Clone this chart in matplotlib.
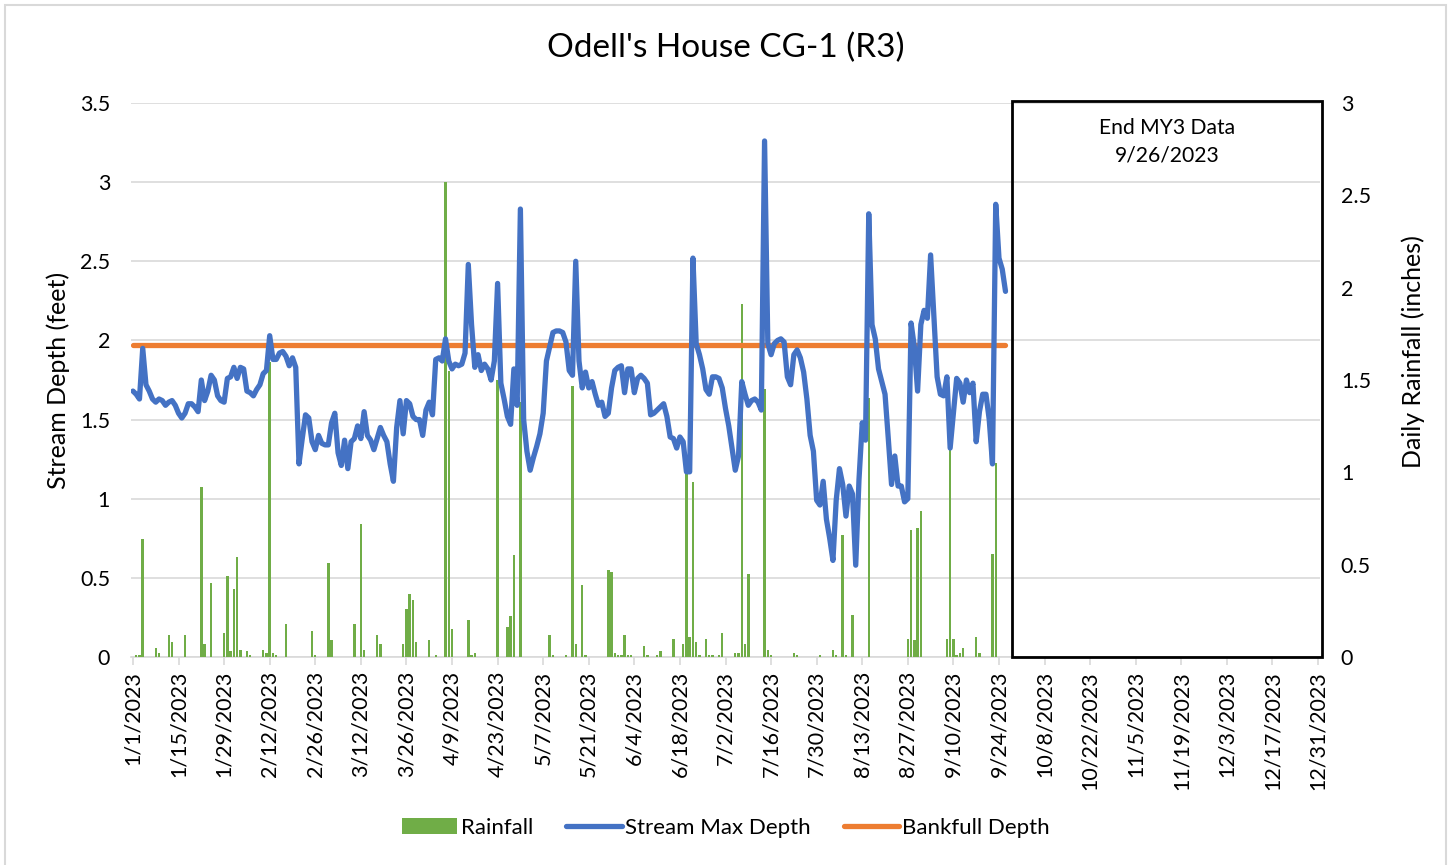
import pandas as pd
import matplotlib
matplotlib.use("Agg")
import matplotlib.pyplot as plt
import matplotlib.dates as mdates
from matplotlib.patches import Rectangle, Patch
from matplotlib.lines import Line2D
from matplotlib.ticker import FixedLocator, FuncFormatter, MultipleLocator
from matplotlib.transforms import blended_transform_factory

plt.rcParams['font.family'] = ['Lato', 'DejaVu Sans']

# daily stream max depth (feet), 1/1/2023 - 9/26/2023, one list per month
depth_jan = [1.68, 1.66, 1.63, 1.95, 1.72, 1.68, 1.63, 1.61, 1.63, 1.62,
             1.59, 1.61, 1.62, 1.59, 1.54, 1.51, 1.54, 1.60, 1.60, 1.58,
             1.55, 1.75, 1.62, 1.68, 1.78, 1.75, 1.65, 1.62, 1.61, 1.76,
             1.77]
depth_feb = [1.83, 1.76, 1.83, 1.82, 1.68, 1.67, 1.65, 1.69, 1.72, 1.79,
             1.81, 2.03, 1.88, 1.88, 1.92, 1.93, 1.90, 1.84, 1.89, 1.83,
             1.22, 1.38, 1.53, 1.51, 1.36, 1.31, 1.40, 1.35]
depth_mar = [1.34, 1.34, 1.48, 1.54, 1.29, 1.21, 1.37, 1.19, 1.36, 1.38,
             1.46, 1.38, 1.55, 1.40, 1.37, 1.31, 1.38, 1.45, 1.40, 1.36,
             1.22, 1.11, 1.45, 1.62, 1.41, 1.62, 1.60, 1.52, 1.50, 1.50,
             1.40]
depth_apr = [1.56, 1.61, 1.53, 1.88, 1.89, 1.87, 2.01, 1.87, 1.82, 1.85,
             1.84, 1.85, 1.92, 2.48, 2.10, 1.83, 1.91, 1.81, 1.85, 1.82,
             1.75, 1.87, 2.36, 1.73, 1.63, 1.52, 1.47, 1.82, 1.59, 2.83]
depth_may = [1.50, 1.30, 1.18, 1.26, 1.33, 1.41, 1.54, 1.87, 1.96, 2.05,
             2.06, 2.06, 2.05, 1.99, 1.81, 1.78, 2.50, 1.87, 1.70, 1.80,
             1.70, 1.74, 1.66, 1.59, 1.61, 1.52, 1.54, 1.70, 1.81, 1.83,
             1.84]
depth_jun = [1.67, 1.82, 1.82, 1.67, 1.76, 1.78, 1.76, 1.73, 1.53, 1.54,
             1.56, 1.58, 1.60, 1.52, 1.39, 1.38, 1.32, 1.39, 1.36, 1.17,
             1.17, 2.52, 1.98, 1.91, 1.82, 1.69, 1.66, 1.77, 1.77, 1.76]
depth_jul = [1.70, 1.57, 1.46, 1.32, 1.18, 1.27, 1.74, 1.66, 1.59, 1.62,
             1.63, 1.61, 1.56, 3.26, 1.98, 1.91, 1.98, 2.00, 2.01, 1.99,
             1.77, 1.72, 1.91, 1.94, 1.89, 1.80, 1.63, 1.40, 1.30, 0.99,
             0.96]
depth_aug = [1.11, 0.87, 0.75, 0.61, 0.99, 1.19, 1.09, 0.89, 1.08, 1.03,
             0.58, 1.12, 1.48, 1.37, 2.80, 2.10, 2.01, 1.82, 1.74, 1.66,
             1.38, 1.09, 1.27, 1.08, 1.08, 0.98, 1.00, 2.11, 1.96, 1.68,
             2.10]
depth_sep = [2.19, 2.14, 2.54, 2.15, 1.77, 1.66, 1.65, 1.77, 1.32, 1.54,
             1.76, 1.73, 1.61, 1.75, 1.67, 1.73, 1.36, 1.55, 1.66, 1.66,
             1.50, 1.22, 2.86, 2.52, 2.45, 2.31]

bankfull_depth = 1.97

# daily rainfall (inches), only days with rain
rain_days = ['1/2', '1/3', '1/4', '1/8', '1/9', '1/12', '1/13', '1/17', '1/22', '1/23',
             '1/25', '1/29', '1/30', '1/31', '2/1', '2/2', '2/3', '2/5', '2/6', '2/10',
             '2/11', '2/12', '2/13', '2/14', '2/17', '2/25', '2/26', '3/2', '3/3', '3/10',
             '3/12', '3/13', '3/17', '3/18', '3/25', '3/26', '3/27', '3/28', '3/29', '4/2',
             '4/4', '4/7', '4/8', '4/9', '4/14', '4/15', '4/16', '4/23', '4/26', '4/27',
             '4/28', '4/30', '5/9', '5/10', '5/14', '5/16', '5/17', '5/19', '5/20', '5/27',
             '5/28', '5/29', '5/30', '5/31', '6/1', '6/2', '6/3', '6/7', '6/8', '6/11',
             '6/12', '6/16', '6/19', '6/20', '6/21', '6/22', '6/23', '6/24', '6/26', '6/27',
             '6/28', '6/30', '7/1', '7/5', '7/6', '7/7', '7/8', '7/9', '7/14', '7/15',
             '7/16', '7/23', '7/24', '7/31', '8/4', '8/5', '8/7', '8/8', '8/10', '8/15',
             '8/27', '8/28', '8/29', '8/30', '8/31', '9/8', '9/9', '9/10', '9/11', '9/12',
             '9/13', '9/17', '9/18', '9/22', '9/23']
rain_in = [0.01, 0.01, 0.64, 0.05, 0.02, 0.12, 0.08, 0.12, 0.92, 0.07,
           0.40, 0.13, 0.44, 0.03, 0.37, 0.54, 0.04, 0.03, 0.01, 0.04,
           0.02, 1.60, 0.02, 0.01, 0.18, 0.14, 0.01, 0.51, 0.09, 0.18,
           0.72, 0.04, 0.12, 0.07, 0.07, 0.26, 0.34, 0.31, 0.08, 0.09,
           0.01, 2.57, 1.55, 0.15, 0.20, 0.01, 0.02, 1.50, 0.16, 0.22,
           0.55, 1.38, 0.12, 0.01, 0.01, 1.47, 0.07, 0.39, 0.01, 0.47,
           0.46, 0.02, 0.01, 0.01, 0.12, 0.01, 0.01, 0.06, 0.01, 0.01,
           0.03, 0.10, 0.07, 1.02, 0.11, 0.95, 0.08, 0.01, 0.10, 0.01,
           0.01, 0.01, 0.13, 0.02, 0.02, 1.91, 0.07, 0.45, 1.45, 0.04,
           0.01, 0.02, 0.01, 0.01, 0.04, 0.01, 0.66, 0.01, 0.23, 1.40,
           0.10, 0.69, 0.09, 0.70, 0.79, 0.10, 1.13, 0.10, 0.01, 0.02,
           0.05, 0.11, 0.02, 0.56, 1.05]

depth = (depth_jan + depth_feb + depth_mar + depth_apr + depth_may +
         depth_jun + depth_jul + depth_aug + depth_sep)
depth_dates = pd.date_range('2023-01-01', periods=len(depth), freq='D')
rain_dates = pd.to_datetime([d + '/2023' for d in rain_days], format='%m/%d/%Y')
tick_dates = pd.date_range('2023-01-01', '2023-12-31', freq='14D')
end_date = pd.Timestamp('2023-09-26')

GREEN = '#70AD47'
BLUE = '#4472C4'
ORANGE = '#ED7D31'
TXT = '#000000'
TICK_FS = 15.5

W, H = 1452, 865
fig = plt.figure(figsize=(W / 100, H / 100), dpi=100)
L, R, T, B = 131, 1320, 103, 657
ax = fig.add_axes([L / W, 1 - B / H, (R - L) / W, (B - T) / H])
ax_rain = ax.twinx()
ax_line = ax.twinx()

# gridlines on the base axes
ax.set_ylim(0, 3.5)
ax.yaxis.set_major_locator(MultipleLocator(0.5))
ax.grid(axis='y', color='#D9D9D9', linewidth=1.2)
ax.set_axisbelow(True)
ax.yaxis.set_major_formatter(FuncFormatter(lambda v, p: f'{v:g}'))
ax.tick_params(axis='y', length=0, pad=15, labelsize=TICK_FS, labelcolor=TXT)

# rainfall bars
ax_rain.bar(rain_dates, rain_in, width=0.75, color=GREEN, zorder=2)
ax_rain.set_ylim(0, 3)
ax_rain.yaxis.set_major_locator(MultipleLocator(0.5))
ax_rain.yaxis.set_major_formatter(FuncFormatter(lambda v, p: f'{v:g}'))
ax_rain.tick_params(axis='y', length=0, pad=15, labelsize=TICK_FS, labelcolor=TXT)

# stream depth and bankfull lines
ax_line.set_ylim(0, 3.5)
ax_line.plot(depth_dates, [bankfull_depth] * len(depth_dates), color=ORANGE,
             linewidth=3.8, solid_capstyle='round')
ax_line.plot(depth_dates, depth, color=BLUE, linewidth=3.8,
             solid_joinstyle='round', solid_capstyle='round')
ax_line.set_yticks([])

x0 = pd.Timestamp('2023-01-01') - pd.Timedelta(days=0.6)
x1 = pd.Timestamp('2023-12-31') + pd.Timedelta(days=0.6)
for a in (ax, ax_rain, ax_line):
    a.set_xlim(x0, x1)
    for s in ('left', 'right', 'top', 'bottom'):
        a.spines[s].set_visible(False)
ax.spines['bottom'].set_visible(True)
ax.spines['bottom'].set_color('#D9D9D9')
ax.spines['bottom'].set_linewidth(1.2)

ax.xaxis.set_major_locator(FixedLocator(mdates.date2num(tick_dates)))
ax.xaxis.set_major_formatter(FuncFormatter(
    lambda v, p: '{0.month}/{0.day}/{0.year}'.format(mdates.num2date(v))))
ax.tick_params(axis='x', rotation=90, length=6, width=1.2, color='#D9D9D9',
               labelsize=TICK_FS, labelcolor=TXT, pad=4)

# axis titles
fig.text(58 / W, 1 - 380 / H, 'Stream Depth (feet)', rotation=90,
         ha='center', va='center', fontsize=18)
fig.text(1413 / W, 1 - 352 / H, 'Daily Rainfall (inches)', rotation=90,
         ha='center', va='center', fontsize=18)

# end of data box
trans = blended_transform_factory(ax.transData, ax.transAxes)
box_left = mdates.date2num(end_date) + 1.9
box_right = mdates.date2num(pd.Timestamp('2023-12-31')) + 1.3
ax_line.add_patch(Rectangle((box_left, 0), box_right - box_left, 1.004, transform=trans,
                            fill=False, edgecolor='black', linewidth=2, clip_on=False))
ax_line.text((box_left + box_right) / 2, (657 - 142) / 554, 'End MY3 Data\n9/26/2023',
             transform=trans, ha='center', va='center', fontsize=15.2, linespacing=1.5)

fig.text(0.5, 1 - 48 / H, "Odell's House CG-1 (R3)", ha='center', va='center', fontsize=24)

handles = [Patch(facecolor=GREEN, label='Rainfall'),
           Line2D([], [], color=BLUE, linewidth=3.8, solid_capstyle='round', label='Stream Max Depth'),
           Line2D([], [], color=ORANGE, linewidth=3.8, solid_capstyle='round', label='Bankfull Depth')]
fig.legend(handles=handles, loc='center', bbox_to_anchor=(0.5, 1 - 828 / H), ncol=3,
           frameon=False, fontsize=16, handlelength=2.5, handleheight=0.72,
           handletextpad=0.14, columnspacing=1.5)

# chart border
fig.patches.append(Rectangle((5 / W, -0.01), 1441 / W, 1 - 5 / H + 0.01, transform=fig.transFigure,
                             fill=False, edgecolor='#D9D9D9', linewidth=1.5))

fig.savefig('out.png', dpi=100)
